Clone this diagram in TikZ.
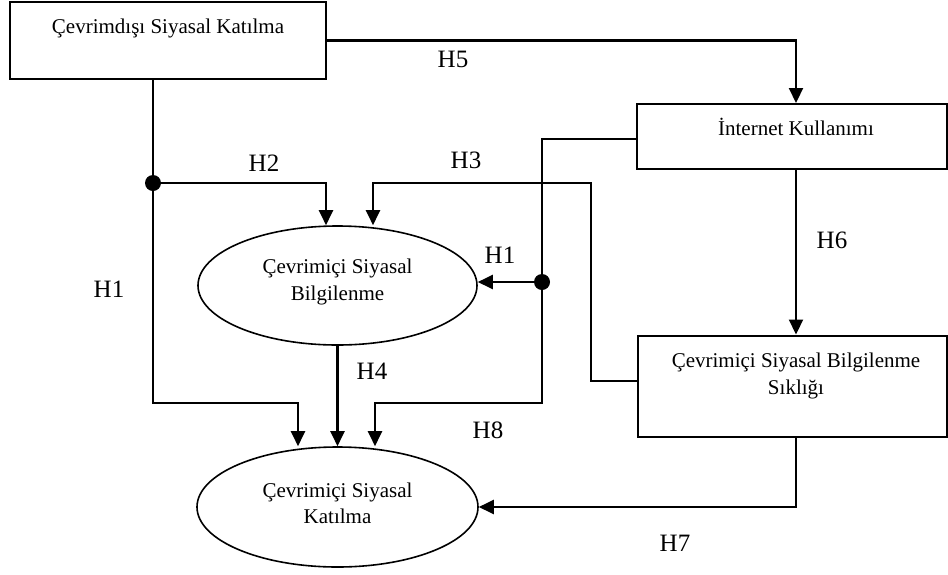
\documentclass[tikz,border=0pt]{standalone}
\usepackage{fontspec}
\setmainfont{Liberation Serif}
\usetikzlibrary{arrows.meta,shapes.geometric}
\begin{document}
\begin{tikzpicture}[x=1pt,y=-1pt,
 box/.style={draw, line width=2pt, rectangle, inner sep=0pt},
 oval/.style={draw, line width=1.6pt, ellipse, inner sep=0pt},
 lbl/.style={font=\fontsize{21}{28}\selectfont, align=center, inner sep=0pt},
 hyp/.style={font=\fontsize{25}{30}\selectfont, inner sep=0pt},
 conn/.style={line width=2.2pt},
 arr/.style={conn, -{Triangle[length=15pt,width=14pt]}},
 dotnode/.style={circle, fill=black, inner sep=0pt, minimum size=16pt}]
\useasboundingbox (0,0) rectangle (948,574);

% boxes
\node[box, minimum width=316pt, minimum height=77pt] (A) at (168,40.5) {};
\node[lbl, anchor=base] (tA) at (168,33) {Çevrimdışı Siyasal Katılma};
\node[box, minimum width=309.5pt, minimum height=65pt] (I) at (791.75,136.5) {};
\node[lbl, anchor=base] (tI) at (796,135) {İnternet Kullanımı};
\node[box, minimum width=308.5pt, minimum height=101.5pt] (S) at (792.25,386.25) {};
\node[lbl, anchor=base] (tS1) at (796,367) {Çevrimiçi Siyasal Bilgilenme};
\node[lbl, anchor=base] (tS2) at (796,394) {Sıklığı};

% ellipses
\node[oval, minimum width=279pt, minimum height=119pt] (E1) at (337.5,285.5) {};
\node[lbl, anchor=base] (tE1a) at (337.5,273) {Çevrimiçi Siyasal};
\node[lbl, anchor=base] (tE1b) at (337.5,300) {Bilgilenme};
\node[oval, minimum width=281pt, minimum height=120pt] (E2) at (337.5,507) {};
\node[lbl, anchor=base] (tE2a) at (337.5,497) {Çevrimiçi Siyasal};
\node[lbl, anchor=base] (tE2b) at (337.5,523) {Katılma};

% junction coordinates
\coordinate (D1) at (153,183);
\coordinate (D2) at (542,282);
\coordinate (j1) at (153,403);
\coordinate (j2) at (542,403);
\coordinate (h3a) at (591,183);
\coordinate (h3b) at (373,183);

% connectors
\draw[arr] (A.east) -| ([xshift=4.25pt]I.north);
\draw[arr] ([xshift=4.25pt]I.south) -- ([xshift=3.75pt]S.north);
\draw[arr] ([xshift=3.75pt]S.south) |- (E2.east);
\draw[arr] (A.south -| D1) -- (j1) -| ([xshift=-39.5pt]E2.north);
\draw[arr] (D1) -| ([xshift=-11.5pt]E1.north);
\draw[arr] ([yshift=5.25pt]S.west) -| (h3a) -- (h3b) -- (h3b |- E1.north);
\draw[arr] ([yshift=-2.5pt]I.west) -| (j2) -| ([xshift=37.5pt]E2.north);
\draw[arr] (D2) -- (D2 -| E1.east);
\draw[arr] (E1.south) -- (E2.north);

% dots
\node[dotnode] (d1) at (D1) {};
\node[dotnode] (d2) at (D2) {};

% labels
\node[hyp] (lH5) at (453,59) {H5};
\node[hyp] (lH2) at (264,163) {H2};
\node[hyp] (lH3) at (466,160) {H3};
\node[hyp] (lH1r) at (500,255) {H1};
\node[hyp] (lH1l) at (109,289) {H1};
\node[hyp] (lH4) at (372,371) {H4};
\node[hyp] (lH8) at (488,430) {H8};
\node[hyp] (lH6) at (832,240) {H6};
\node[hyp] (lH7) at (675,543) {H7};
\end{tikzpicture}
\end{document}
